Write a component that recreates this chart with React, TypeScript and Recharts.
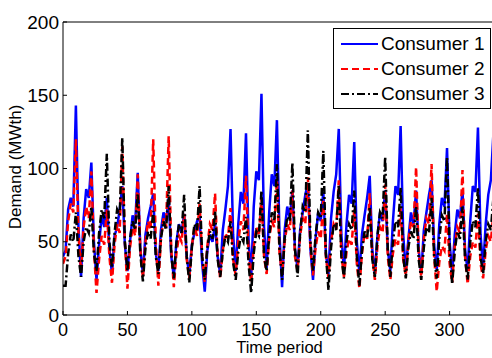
import { LineChart, Line, XAxis, YAxis, Legend, Label } from 'recharts'

// ─── data ───────────────────────────────────────────────────────────────────
// time periods 0..336, every 2nd period sampled
const periods = Array.from({ length: 169 }, (_, i) => i * 2)

// one row per cycle: trough, rise, plateau, plateau, peak, fall
const consumer1 = [
  40,
  44, 72, 80, 74, 143, 60,
  26, 66, 86, 80, 104, 50,
  24, 48, 68, 60, 80, 45,
  28, 54, 60, 72, 88, 48,
  30, 50, 68, 62, 97, 45,
  28, 55, 66, 74, 83, 42,
  30, 58, 70, 64, 80, 40,
  26, 50, 62, 56, 69, 40,
  27, 48, 56, 64, 67, 35,
  16, 44, 55, 50, 62, 40,
  28, 58, 72, 88, 127, 55,
  30, 62, 84, 76, 124, 52,
  25, 74, 98, 92, 151, 60,
  32, 70, 96, 88, 133, 55,
  19, 58, 74, 66, 85, 45,
  32, 58, 70, 82, 90, 45,
  24, 52, 70, 64, 84, 42,
  28, 66, 84, 96, 127, 55,
  30, 62, 82, 76, 118, 50,
  28, 55, 68, 80, 95, 45,
  28, 54, 70, 64, 85, 45,
  30, 64, 88, 82, 129, 55,
  30, 52, 70, 62, 85, 45,
  28, 58, 70, 82, 92, 48,
  30, 62, 80, 74, 114, 50,
  28, 55, 72, 66, 85, 45,
  30, 64, 88, 84, 128, 55,
  32, 62, 82, 92, 124, 60,
]

const consumer2 = [
  35,
  40, 64, 76, 70, 120, 55,
  30, 60, 74, 66, 98, 45,
  15, 38, 54, 48, 72, 40,
  22, 48, 62, 56, 115, 50,
  18, 46, 60, 54, 96, 45,
  25, 50, 64, 58, 120, 50,
  20, 52, 66, 60, 122, 45,
  19, 42, 54, 50, 69, 38,
  25, 47, 60, 54, 76, 40,
  22, 47, 62, 58, 83, 40,
  25, 44, 56, 52, 73, 38,
  27, 50, 64, 58, 95, 42,
  22, 47, 60, 54, 80, 40,
  28, 52, 64, 60, 92, 42,
  28, 50, 62, 58, 85, 40,
  30, 54, 66, 62, 94, 45,
  27, 46, 57, 52, 78, 40,
  25, 50, 62, 58, 92, 42,
  26, 43, 52, 48, 72, 35,
  18, 42, 56, 52, 83, 40,
  24, 47, 60, 56, 89, 40,
  24, 42, 52, 48, 73, 38,
  27, 50, 64, 60, 101, 42,
  26, 52, 66, 62, 103, 40,
  16, 36, 47, 44, 69, 35,
  22, 47, 60, 56, 99, 40,
  21, 40, 50, 46, 69, 35,
  25, 44, 54, 50, 70, 50,
]

const consumer3 = [
  20,
  20, 42, 55, 50, 70, 40,
  26, 50, 60, 56, 74, 42,
  30, 56, 72, 66, 110, 50,
  32, 56, 72, 68, 121, 50,
  30, 52, 64, 58, 83, 42,
  23, 46, 57, 52, 71, 40,
  28, 52, 64, 58, 88, 42,
  25, 49, 62, 56, 82, 40,
  22, 46, 62, 58, 88, 40,
  24, 46, 57, 52, 71, 38,
  26, 43, 54, 50, 64, 36,
  24, 43, 54, 50, 67, 35,
  15, 42, 57, 54, 85, 40,
  30, 54, 70, 64, 103, 45,
  24, 52, 67, 64, 104, 45,
  26, 56, 74, 70, 126, 50,
  30, 54, 70, 66, 112, 42,
  17, 46, 62, 58, 89, 40,
  25, 50, 62, 58, 85, 40,
  20, 44, 57, 52, 74, 38,
  26, 54, 70, 66, 108, 45,
  26, 50, 64, 60, 87, 40,
  25, 46, 57, 52, 74, 38,
  24, 46, 60, 56, 80, 40,
  25, 52, 68, 64, 108, 45,
  21, 44, 57, 52, 74, 38,
  24, 50, 64, 60, 87, 40,
  28, 50, 62, 58, 80, 60,
]

const xTicks = [0, 50, 100, 150, 200, 250, 300]
const yTicks = [0, 50, 100, 150, 200]

const SERIES = [
  { key: 'c1', name: 'Consumer 1', color: '#0000ff', dash: undefined },
  { key: 'c2', name: 'Consumer 2', color: '#ff0000', dash: '7 4' },
  { key: 'c3', name: 'Consumer 3', color: '#000000', dash: '8 3 2 3' },
]

const rows = periods.map((x, i) => ({
  x,
  c1: consumer1[i],
  c2: consumer2[i],
  c3: consumer3[i],
}))

const FONT = '"Liberation Sans", Arial, Helvetica, sans-serif'

// ─── legend (MATLAB style box) ───────────────────────────────────────────────

function LegendBox() {
  return (
    <div
      style={{
        width: 156,
        height: 77,
        paddingTop: 2,
        boxSizing: 'content-box',
        border: '1px solid #000',
        background: '#fff',
        fontFamily: FONT,
        fontSize: 19,
        color: '#000',
      }}
    >
      {SERIES.map((s) => (
        <div key={s.key} style={{ display: 'flex', alignItems: 'center', height: 25 }}>
          <svg width={46} height={10} style={{ flex: 'none' }}>
            <line x1={7} x2={44} y1={5} y2={5} stroke={s.color} strokeWidth={2} strokeDasharray={s.dash} />
          </svg>
          <span style={{ marginLeft: 1, lineHeight: 1 }}>{s.name}</span>
        </div>
      ))}
    </div>
  )
}

export default function App() {
  return (
    <div
      style={{
        position: 'fixed',
        left: 0,
        top: 0,
        width: 492,
        height: 358,
        overflow: 'hidden',
        background: '#fff',
      }}
    >
      <LineChart width={500} height={358} data={rows} margin={{ top: 2, right: 4, bottom: 0, left: 0 }}>
        <XAxis
          dataKey="x"
          type="number"
          domain={[0, 336]}
          ticks={xTicks}
          allowDataOverflow
          height={43}
          stroke="#000"
          tickSize={-4}
          tickMargin={12}
          tick={{ fontSize: 18, fill: '#000', fontFamily: FONT }}
        >
          <Label
            content={() => (
              <text x={279.5} y={353} textAnchor="middle" fontSize={16.5} fontFamily={FONT} fill="#000">
                Time period
              </text>
            )}
          />
        </XAxis>
        <XAxis
          xAxisId="top"
          orientation="top"
          dataKey="x"
          type="number"
          domain={[0, 336]}
          ticks={xTicks}
          height={20}
          stroke="#000"
          tickSize={-4}
          tick={false}
        />
        <YAxis
          type="number"
          domain={[0, 200]}
          ticks={yTicks}
          width={63}
          stroke="#000"
          tickSize={-4}
          tickMargin={8}
          tick={{ fontSize: 19, fill: '#000', fontFamily: FONT }}
        >
          <Label
            content={() => (
              <text
                x={21}
                y={167}
                transform="rotate(-90 21 167)"
                textAnchor="middle"
                fontSize={17}
                fontFamily={FONT}
                fill="#000"
              >
                Demand (MWth)
              </text>
            )}
          />
        </YAxis>
        <Legend
          layout="vertical"
          align="center"
          verticalAlign="middle"
          wrapperStyle={{ top: 28, left: 333, width: 158 }}
          content={() => <LegendBox />}
        />
        {SERIES.map((s) => (
          <Line
            key={s.key}
            type="linear"
            dataKey={s.key}
            name={s.name}
            stroke={s.color}
            strokeWidth={2.5}
            strokeDasharray={s.dash}
            dot={false}
            activeDot={false}
            isAnimationActive={false}
          />
        ))}
      </LineChart>
    </div>
  )
}
